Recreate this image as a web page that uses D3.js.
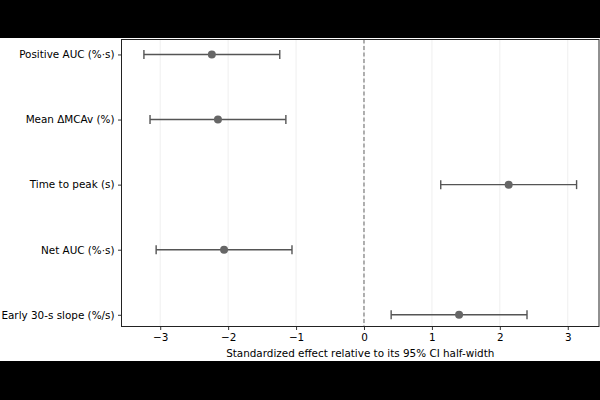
<!DOCTYPE html>
<meta charset="utf-8">
<script src="https://d3js.org/d3.v7.min.js"></script>
<style>
  body { margin: 0; background: #000; }
  text { font-family: "DejaVu Sans", sans-serif; }
</style>
<div id="my_dataviz"></div>
<script>

    // outcomes, top to bottom
    var outcomes = ["Positive AUC (%·s)", "Mean ΔMCAv (%)", "Time to peak (s)", "Net AUC (%·s)", "Early 30-s slope (%/s)"];
    // standardized effect and CI ends
    var effect = [-2.24, -2.15, 2.13, -2.06, 1.40];
    var ciLow = [-3.24, -3.15, 1.13, -3.06, 0.40];
    var ciHigh = [-1.24, -1.15, 3.13, -1.06, 2.40];
    var xTicks = [-3, -2, -1, 0, 1, 2, 3];

    var data = outcomes.map(function (d, i) {
        return { name: d, i: i, est: effect[i], lo: ciLow[i], hi: ciHigh[i] };
    });

    var margin = { top: 39.5, right: 1, bottom: 73.5, left: 121.5 },
        width = 600 - margin.left - margin.right,
        height = 400 - margin.top - margin.bottom;

    var root = d3.select("#my_dataviz")
        .append("svg")
        .attr("width", 600)
        .attr("height", 400);

    // white figure area inside the black letterbox
    root.append("rect")
        .attr("x", 0).attr("y", 38)
        .attr("width", 600).attr("height", 323)
        .attr("fill", "white");

    var svg = root.append("g")
        .attr("transform", "translate(" + margin.left + "," + margin.top + ")");

    var x = d3.scaleLinear()
        .domain([-3.57, 3.46])
        .range([0, width]);

    var y = d3.scaleLinear()
        .domain([-0.23, 4.18])
        .range([0, height]);

    // grid
    svg.selectAll(".grid")
        .data(xTicks)
        .enter().append("line")
        .attr("x1", function (d) { return x(d); })
        .attr("x2", function (d) { return x(d); })
        .attr("y1", 0).attr("y2", height)
        .attr("stroke", "#ebebeb")
        .attr("stroke-width", 0.8);

    // zero reference
    svg.append("line")
        .attr("x1", x(0)).attr("x2", x(0))
        .attr("y1", 0).attr("y2", height)
        .attr("stroke", "#666")
        .attr("stroke-width", 1)
        .attr("stroke-dasharray", "4,2.5");

    // error bars
    var g = svg.selectAll(".row")
        .data(data)
        .enter().append("g");

    g.append("line")
        .attr("x1", function (d) { return x(d.lo); })
        .attr("x2", function (d) { return x(d.hi); })
        .attr("y1", function (d) { return y(d.i); })
        .attr("y2", function (d) { return y(d.i); })
        .attr("stroke", "#555")
        .attr("stroke-width", 1.4);

    ["lo", "hi"].forEach(function (k) {
        g.append("line")
            .attr("x1", function (d) { return x(d[k]); })
            .attr("x2", function (d) { return x(d[k]); })
            .attr("y1", function (d) { return y(d.i) - 4.5; })
            .attr("y2", function (d) { return y(d.i) + 4.5; })
            .attr("stroke", "#555")
            .attr("stroke-width", 1.4);
    });

    g.append("circle")
        .attr("cx", function (d) { return x(d.est); })
        .attr("cy", function (d) { return y(d.i); })
        .attr("r", 4)
        .attr("fill", "#666");

    // axes
    var xAxis = svg.append("g")
        .attr("transform", "translate(0," + height + ")")
        .call(d3.axisBottom(x).tickValues(xTicks).tickSize(3.5).tickPadding(3.5)
            .tickFormat(function (d) { return d < 0 ? "\u2212" + Math.abs(d) : d; }));

    var yAxis = svg.append("g")
        .call(d3.axisLeft(y).tickValues(d3.range(outcomes.length)).tickSize(3.5).tickPadding(3.5)
            .tickFormat(function (d) { return outcomes[d]; }));

    [xAxis, yAxis].forEach(function (a) {
        a.select(".domain").remove();
        a.selectAll("text").attr("font-size", 10.4).attr("fill", "#000")
            .style("font-family", "DejaVu Sans, sans-serif");
        a.selectAll("line").attr("stroke", "#000").attr("stroke-width", 0.8);
    });

    // frame
    svg.append("rect")
        .attr("width", width).attr("height", height)
        .attr("fill", "none")
        .attr("stroke", "#222")
        .attr("stroke-width", 1);

    svg.append("text")
        .attr("x", width / 2)
        .attr("y", height + 30)
        .attr("text-anchor", "middle")
        .attr("font-size", 10.4)
        .text("Standardized effect relative to its 95% CI half-width");

</script>
